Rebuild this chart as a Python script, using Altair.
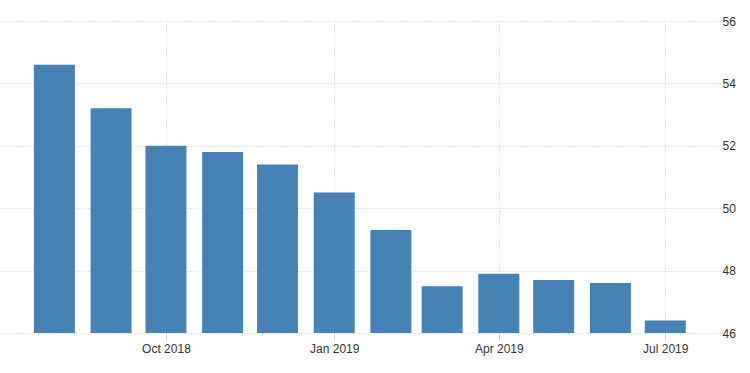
import altair as alt
import pandas as pd

months = ["2018-08-01", "2018-09-01", "2018-10-01", "2018-11-01", "2018-12-01", "2019-01-01",
          "2019-02-01", "2019-03-01", "2019-04-01", "2019-05-01", "2019-06-01", "2019-07-01"]
values = [54.6, 53.2, 52.0, 51.8, 51.4, 50.5, 49.3, 47.5, 47.9, 47.7, 47.6, 46.4]
y_ticks = [46, 48, 50, 52, 54, 56]
x_ticks = ["2018-10-01", "2019-01-01", "2019-04-01", "2019-07-01"]

df = pd.DataFrame({"date": months, "value": values})

x_tick_vals = [alt.DateTime(year=int(d[:4]), month=int(d[5:7]), date=1) for d in x_ticks]

chart = alt.Chart(df).mark_bar(size=41, color="#4682b4", clip=True).encode(
    x=alt.X("date:T",
            scale=alt.Scale(domain=[alt.DateTime(year=2018, month=7, date=5),
                                    alt.DateTime(year=2019, month=7, date=26)]),
            axis=alt.Axis(values=x_tick_vals, format="%b %Y", title=None,
                          grid=True, gridDash=[1, 2], gridColor="#cccccc",
                          domain=False, ticks=True, tickSize=6, tickColor="#cccccc",
                          labelFontSize=12, labelColor="#333333", labelPadding=4,
                          labelFont="Liberation Sans")),
    y=alt.Y("value:Q",
            scale=alt.Scale(domain=[46, 56], nice=False, zero=False),
            axis=alt.Axis(orient="right", values=y_ticks, title=None,
                          grid=True, gridDash=[1, 2], gridColor="#cccccc",
                          domain=False, ticks=True, tickSize=4, tickDash=[1, 2],
                          tickColor="#cccccc",
                          labelFontSize=12, labelColor="#333333", labelPadding=2,
                          labelFont="Liberation Sans")),
).properties(
    width=716, height=312,
    autosize=alt.AutoSizeParams(type="none"),
    padding={"left": 0, "top": 21, "right": 34, "bottom": 40},
).configure_view(stroke=None)

chart.save("out.html", embed_options={"renderer": "svg", "actions": False})
